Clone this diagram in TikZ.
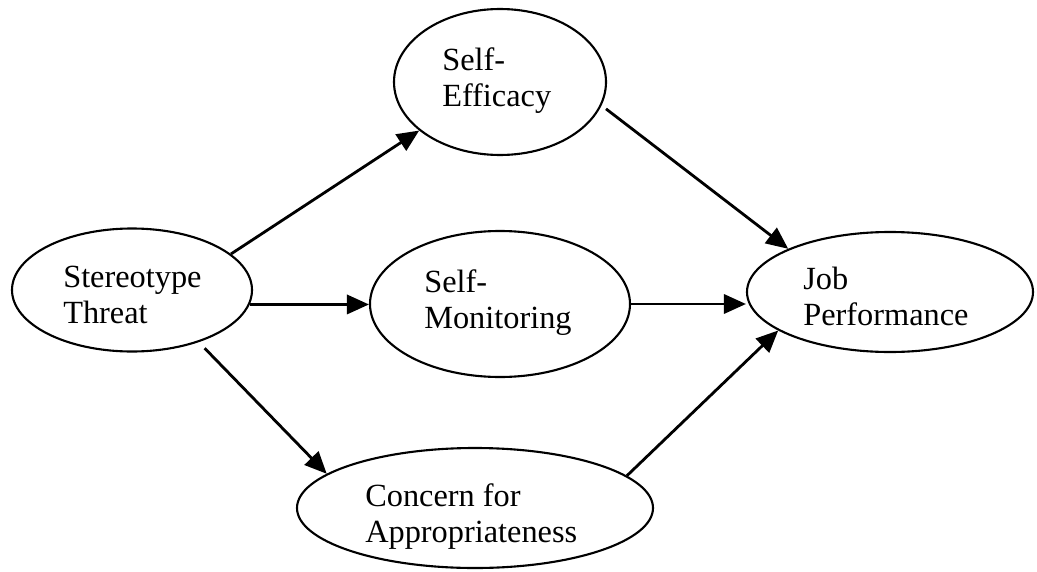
\documentclass[tikz,border=0pt]{standalone}
\usepackage{fontspec}
\setmainfont{Liberation Serif}
\usetikzlibrary{arrows.meta,shapes.geometric}
\begin{document}
\begin{tikzpicture}
    [
    construct/.style={ellipse,draw,line width=1.5pt,inner sep=0pt},
    vartext/.style={anchor=base west,align=left,inner sep=0pt,font=\fontsize{23pt}{25.6pt}\selectfont},
    effect/.style={-{Triangle[length=0.55cm,width=0.48cm]},line width=2pt}
    ]
    \useasboundingbox (0,0) rectangle (25.925,14.275);
    \node (threat) at (3.3,7.025) [construct, minimum width=6cm, minimum height=3.075cm] {};
    \node (efficacy) at (12.5,12.225) [construct, minimum width=5.3cm, minimum height=3.65cm] {};
    \node (monitoring) at (12.5,6.675) [construct, minimum width=6.5cm, minimum height=3.65cm] {};
    \node (job) at (22.25,6.975) [construct, minimum width=7.15cm, minimum height=3cm] {};
    \node (concern) at (11.875,1.575) [construct, minimum width=8.9cm, minimum height=3cm] {};
    % labels
    \node (threattext) at (1.575,6.2) [vartext] {Stereotype\\Threat};
    \node (efficacytext) at (11.05,11.625) [vartext] {Self-\\Efficacy};
    \node (monitoringtext) at (10.6,6.075) [vartext] {Self-\\Monitoring};
    \node (jobtext) at (20.075,6.15) [vartext] {Job\\Performance};
    \node (concerntext) at (9.125,0.725) [vartext] {Concern for\\Appropriateness};
    % paths
    \draw [effect] (threat.20) to (efficacy.211);
    \draw [effect, shorten <=4pt] (efficacy.347) to (job.157);
    \draw [effect] (threat.353) to (threat.353 -| monitoring.west);
    \draw [effect] (monitoring.east) to (monitoring.east -| job.west);
    \draw [effect, shorten <=6pt] (threat.322) to (concern.167);
    \draw [effect] (concern.12) to (job.199);
  \end{tikzpicture}
\end{document}
